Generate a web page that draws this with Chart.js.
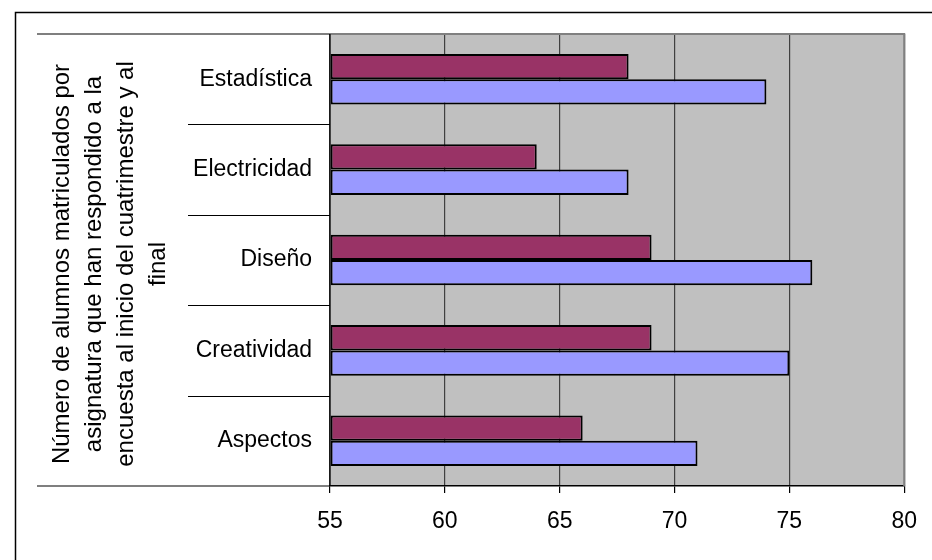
<!DOCTYPE html>
<html>
<head>
<meta charset="utf-8">
<script src="https://cdn.jsdelivr.net/npm/chart.js@4/dist/chart.umd.min.js"></script>
<style>
  body { margin: 0; background: #fff; }
  #wrap { width: 932px; height: 560px; }
</style>
</head>
<body>
<div id="wrap"><canvas id="chart" width="932" height="560"></canvas></div>
<script>
// categories, top to bottom
var subjects = ["Estadística", "Electricidad", "Diseño", "Creatividad", "Aspectos"];
// first series (maroon) and second series (lavender)
var serieA = [68, 64, 69, 69, 66];
var serieB = [74, 68, 76, 75, 71];
var xTicks = [55, 60, 65, 70, 75, 80];
var titleLines = [
    "Número de alumnos matriculados por",
    "asignatura que han respondido a la",
    "encuesta al inicio del cuatrimestre y al",
    "final"
];

var FONT = '"Liberation Sans", Arial, sans-serif';

// grey plot background, separators, frame and rotated axis title
var decor = {
    id: 'decor',
    beforeDraw: function(chart) {
        var a = chart.chartArea, ctx = chart.ctx;
        ctx.save();
        ctx.fillStyle = '#c0c0c0';
        ctx.fillRect(a.left, a.top, a.right - a.left, a.bottom - a.top);
        ctx.restore();
    },
    afterDraw: function(chart) {
        var a = chart.chartArea, ctx = chart.ctx;
        var band = (a.bottom - a.top) / subjects.length;
        ctx.save();
        // plot border (grey)
        ctx.strokeStyle = '#808080';
        ctx.lineWidth = 2;
        ctx.beginPath();
        ctx.moveTo(a.left, a.top);
        ctx.lineTo(a.right, a.top);
        ctx.lineTo(a.right, a.bottom);
        ctx.stroke();
        // category axis line and separators
        ctx.strokeStyle = '#000';
        ctx.lineWidth = 1.2;
        ctx.beginPath();
        ctx.moveTo(a.left, a.top);
        ctx.lineTo(a.left, a.bottom);
        ctx.moveTo(37, a.top);
        ctx.lineTo(a.left, a.top);
        ctx.moveTo(37, a.bottom);
        ctx.lineTo(a.left, a.bottom);
        for (var i = 1; i < subjects.length; i++) {
            var y = Math.round(a.top + band * i) + 0.5;
            ctx.moveTo(188, y);
            ctx.lineTo(a.left, y);
        }
        ctx.stroke();
        // outer frame
        ctx.lineWidth = 1.5;
        ctx.beginPath();
        ctx.moveTo(15.5, 560);
        ctx.lineTo(15.5, 12.5);
        ctx.lineTo(932, 12.5);
        ctx.stroke();
        // rotated axis title
        ctx.fillStyle = '#000';
        ctx.font = '24px ' + FONT;
        ctx.textAlign = 'center';
        ctx.textBaseline = 'middle';
        for (var j = 0; j < titleLines.length; j++) {
            ctx.save();
            ctx.translate(62 + j * 32, 264);
            ctx.rotate(-Math.PI / 2);
            ctx.fillText(titleLines[j], 0, 0);
            ctx.restore();
        }
        ctx.restore();
    }
};

var config = {
    type: 'bar',
    data: {
        labels: subjects,
        datasets: [
            {
                data: serieA,
                base: 55,
                backgroundColor: "#993366",
                borderColor: "#000000",
                borderWidth: 2,
                borderSkipped: false
            },
            {
                data: serieB,
                base: 55,
                backgroundColor: "#9999ff",
                borderColor: "#000000",
                borderWidth: 2,
                borderSkipped: false
            }
        ]
    },
    options: {
        responsive: false,
        animation: false,
        indexAxis: 'y',
        layout: { padding: { left: 0, top: 34, right: 26, bottom: 0 } },
        barPercentage: 1.0,
        categoryPercentage: 0.56,
        plugins: {
            legend: { display: false },
            tooltip: { enabled: false }
        },
        scales: {
            x: {
                min: 55,
                max: 80,
                afterBuildTicks: function(scale) {
                    scale.ticks = xTicks.map(function(v) { return { value: v }; });
                },
                afterFit: function(scale) { scale.height = 74; },
                grid: { color: '#404040', lineWidth: 1.2, tickLength: 7, tickColor: '#000' },
                border: { color: '#000', width: 1.5 },
                ticks: { color: '#000', font: { family: FONT, size: 23 }, padding: 15 }
            },
            y: {
                afterFit: function(scale) { scale.width = 330; },
                grid: { display: false, drawTicks: false },
                border: { display: false },
                ticks: { color: '#000', font: { family: FONT, size: 23 }, padding: 18 }
            }
        }
    },
    plugins: [decor]
};

var ctx = document.getElementById("chart").getContext("2d");
var myChart = new Chart(ctx, config);
</script>
</body>
</html>
